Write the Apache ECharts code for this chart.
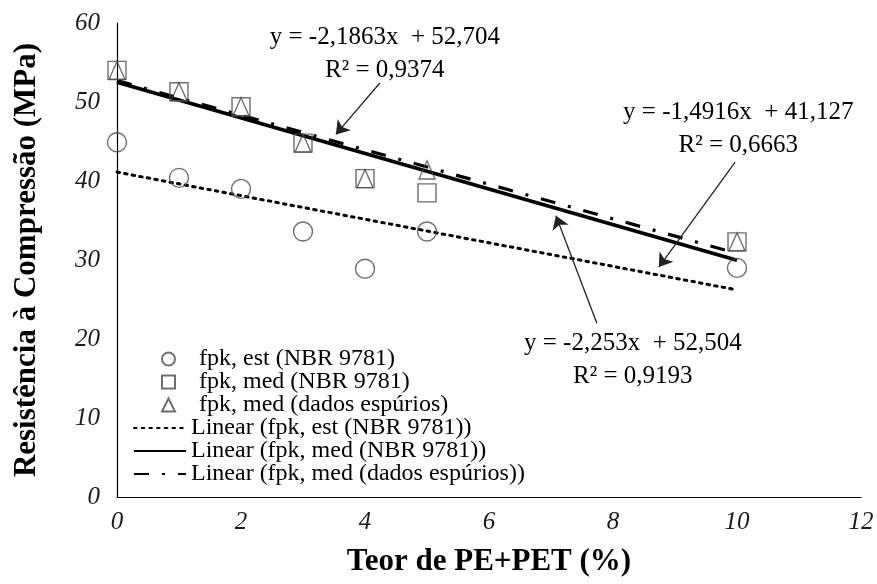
<!DOCTYPE html>
<html>
<head>
<meta charset="utf-8">
<script src="https://cdn.jsdelivr.net/npm/echarts@6/dist/echarts.min.js"></script>
<style>
  html, body { margin: 0; padding: 0; background: #fff; }
  #chart { width: 877px; height: 584px; }
</style>
</head>
<body>
<div id="chart"></div>
<script>
// Teor de PE+PET (%) e resistências medidas (MPa)
const teor = [0, 1, 2, 3, 4, 5, 10];
const fpkEst = [44.9, 40.4, 39.0, 33.6, 28.9, 33.6, 29.0];
const fpkMed = [54.0, 51.3, 49.4, 44.8, 40.3, 38.5, 32.3];
const fpkMedEsp = [54.0, 51.3, 49.4, 44.8, 40.3, 41.4, 32.3];

// Regressões lineares: est, med, med (dados espúrios)
const slopes = [-1.4916, -2.253, -2.1863];
const intercepts = [41.127, 52.504, 52.704];
const r2 = [0.6663, 0.9193, 0.9374];
const trendRange = [0, 10];

const seriesNames = [
  'fpk, est (NBR 9781)',
  'fpk, med (NBR 9781)',
  'fpk, med (dados espúrios)'
];

const FONT = '"Liberation Serif", "Times New Roman", serif';
const MARK = '#4a4a4a';

const fmt = v => String(v).replace('.', ',');
const eqText = i =>
  'y = ' + fmt(slopes[i]) + 'x  + ' + fmt(intercepts[i]) + '\nR² = ' + fmt(r2[i]);
const trend = i => trendRange.map(x => [x, slopes[i] * x + intercepts[i]]);
const pts = ys => teor.map((x, k) => [x, ys[k]]);

// equation label centre and arrow (tail -> head), in data coordinates
const notes = [
  { label: [10.02, 46.6], arrow: [[9.97, 42.4], [8.74, 29.1]] },
  { label: [8.32, 17.3], arrow: [[7.74, 22.0], [7.08, 35.6]] },
  { label: [4.32, 56.1], arrow: [[4.24, 52.4], [3.53, 45.9]] }
];

const lineStyles = [
  { type: [2.5, 5.2], width: 3, cap: 'round' },
  { type: 'solid', width: 3.8 },
  { type: [15, 13, 3, 13], width: 3.2 }
];

function trendSeries(i) {
  return {
    name: 'Linear (' + seriesNames[i] + ')',
    type: 'line',
    data: trend(i),
    symbol: 'none',
    z: 2,
    lineStyle: Object.assign({ color: '#000' }, lineStyles[i]),
    itemStyle: { color: '#000' },
    markPoint: {
      symbol: 'circle',
      symbolSize: 0,
      silent: true,
      label: {
        show: true,
        position: 'inside',
        fontFamily: FONT,
        fontSize: 25,
        lineHeight: 33,
        color: '#000',
        align: 'center',
        formatter: () => eqText(i)
      },
      data: [{ coord: notes[i].label }]
    },
    markLine: {
      silent: true,
      symbol: ['none', 'arrow'],
      symbolSize: 13,
      label: { show: false },
      lineStyle: { color: '#222', width: 1.3, type: 'solid' },
      data: [[{ coord: notes[i].arrow[0] }, { coord: notes[i].arrow[1] }]]
    }
  };
}

function markerSeries(name, ys, symbol, size) {
  return {
    name: name,
    type: 'scatter',
    data: pts(ys),
    symbol: symbol,
    symbolSize: size,
    z: 3,
    itemStyle: { color: 'rgba(255,255,255,0)', borderColor: MARK, borderWidth: 1.4 }
  };
}

const legendText = { fontFamily: FONT, fontSize: 24, color: '#000', lineHeight: 23 };

const chart = echarts.init(document.getElementById('chart'));
chart.setOption({
  animation: false,
  backgroundColor: '#fff',
  grid: { left: 117, right: 16, top: 23, bottom: 87, containLabel: false },
  xAxis: {
    type: 'value',
    min: 0, max: 12, interval: 2,
    name: 'Teor de PE+PET (%)',
    nameLocation: 'middle',
    nameGap: 49,
    nameTextStyle: { fontFamily: FONT, fontSize: 31, fontWeight: 'bold', color: '#000' },
    axisLine: { show: true, lineStyle: { color: '#000', width: 1.2 } },
    axisTick: { show: false },
    splitLine: { show: false },
    axisLabel: { fontFamily: FONT, fontSize: 25, fontStyle: 'italic', color: '#1a1a1a', margin: 13 }
  },
  yAxis: {
    type: 'value',
    min: 0, max: 60, interval: 10,
    name: 'Resistência à Compressão (MPa)',
    nameLocation: 'middle',
    nameGap: 75,
    nameRotate: 90,
    nameTextStyle: { fontFamily: FONT, fontSize: 31, fontWeight: 'bold', color: '#000' },
    axisLine: { show: true, lineStyle: { color: '#000', width: 1.2 } },
    axisTick: { show: false },
    splitLine: { show: false },
    axisLabel: { fontFamily: FONT, fontSize: 25, fontStyle: 'italic', color: '#1a1a1a', margin: 17 }
  },
  legend: [
    {
      orient: 'vertical',
      left: 161, top: 347,
      padding: 0,
      itemWidth: 13, itemHeight: 13, itemGap: -1,
      selectedMode: false,
      data: seriesNames,
      textStyle: Object.assign({ padding: [0, 0, 0, 19] }, legendText)
    },
    {
      orient: 'vertical',
      left: 133, top: 416,
      padding: 0,
      itemWidth: 52, itemHeight: 14, itemGap: -1,
      selectedMode: false,
      itemStyle: { opacity: 0 },
      data: seriesNames.map(n => 'Linear (' + n + ')'),
      textStyle: legendText
    }
  ],
  series: [
    markerSeries(seriesNames[0], fpkEst, 'circle', 19),
    markerSeries(seriesNames[1], fpkMed, 'rect', 18),
    markerSeries(seriesNames[2], fpkMedEsp, 'triangle', [16, 18]),
    trendSeries(0),
    trendSeries(1),
    trendSeries(2)
  ]
});
</script>
</body>
</html>
